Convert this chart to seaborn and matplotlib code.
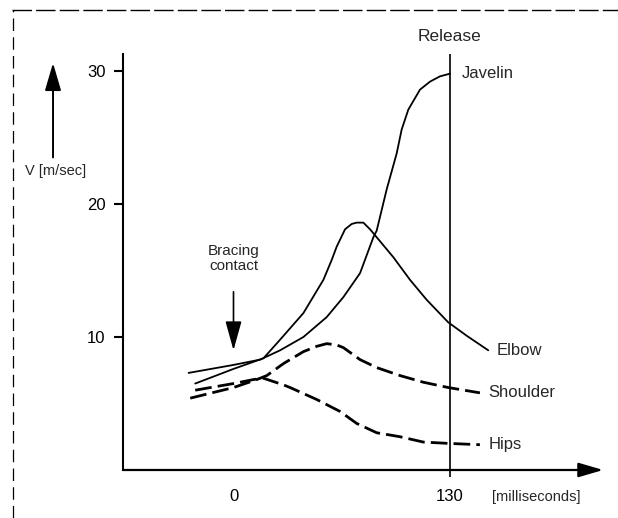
import numpy as np
import pandas as pd
import seaborn as sns
import matplotlib.pyplot as plt
from matplotlib.lines import Line2D

# time in ms relative to bracing contact, velocity in m/s
javelin_ms = [-27, 0, 16, 28, 42, 56, 66, 76, 84, 86, 92, 98, 101, 105, 112, 118, 124, 130]
javelin_v = [7.3, 7.9, 8.3, 9.0, 10.0, 11.5, 13.0, 14.8, 17.5, 18.0, 21.1, 23.8, 25.6, 27.1, 28.6, 29.2, 29.6, 29.8]

elbow_ms = [-23, 0, 18, 28, 42, 54, 59, 62, 67, 71, 74, 78, 82, 88, 96, 106, 116, 129, 140, 153]
elbow_v = [6.5, 7.6, 8.4, 9.8, 11.8, 14.3, 15.8, 16.8, 18.1, 18.5, 18.6, 18.6, 18.1, 17.2, 16.0, 14.3, 12.8, 11.1, 10.1, 9.0]

shoulder_ms = [-26, 0, 14, 20, 30, 34, 42, 50, 56, 62, 66, 76, 86, 100, 114, 129, 148]
shoulder_v = [5.4, 6.2, 6.8, 7.1, 8.0, 8.3, 8.9, 9.3, 9.5, 9.4, 9.2, 8.3, 7.7, 7.1, 6.6, 6.2, 5.8]

hips_ms = [-23, 0, 12, 18, 30, 34, 50, 64, 74, 86, 100, 114, 129, 148]
hips_v = [6.0, 6.5, 6.8, 6.9, 6.4, 6.2, 5.3, 4.4, 3.5, 2.8, 2.5, 2.1, 2.0, 1.9]

parts = ["Javelin", "Elbow", "Shoulder", "Hips"]
release_ms = 130
x_ticks = [0, 130]
y_ticks = [10, 20, 30]

df = pd.concat([
    pd.DataFrame({"ms": javelin_ms, "v": javelin_v, "part": "Javelin"}),
    pd.DataFrame({"ms": elbow_ms, "v": elbow_v, "part": "Elbow"}),
    pd.DataFrame({"ms": shoulder_ms, "v": shoulder_v, "part": "Shoulder"}),
    pd.DataFrame({"ms": hips_ms, "v": hips_v, "part": "Hips"}),
])

sns.set_theme(style="white")
plt.rcParams["font.family"] = ["Liberation Sans", "DejaVu Sans"]

fig = plt.figure(figsize=(6.18, 5.18), dpi=100)
ax = fig.add_axes([0, 0, 1, 1])
ax.set_facecolor("white")

# solid lines for javelin / elbow, dashed for shoulder / hips
for part in parts:
    sub = df[df["part"] == part]
    dashed = part in ("Shoulder", "Hips")
    sns.lineplot(data=sub, x="ms", y="v", ax=ax, color="black", sort=False,
                 estimator=None, lw=2.0 if dashed else 1.3,
                 linestyle=(0, (6, 2.2)) if dashed else "-")

# end labels
for part in parts:
    sub = df[df["part"] == part]
    x_end, y_end = sub["ms"].iloc[-1], sub["v"].iloc[-1]
    ax.text(x_end + (7 if part == "Javelin" else 5), y_end, part, fontsize=12,
            va="center", ha="left")

# release line
ax.vlines(release_ms, -0.5, 31.3, color="black", lw=1.2)
ax.text(release_ms, 32.6, "Release", fontsize=12.5, ha="center", va="center")

# bracing contact arrow
ax.text(0, 15.9, "Bracing\ncontact", fontsize=11, ha="center", va="center", linespacing=1.15)
ax.annotate("", xy=(0, 9.0), xytext=(0, 13.4),
            arrowprops=dict(arrowstyle="-|>,head_length=0.9,head_width=0.25",
                            mutation_scale=20, color="black", lw=1.2,
                            shrinkA=0, shrinkB=0))

# y unit arrow
ax.annotate("", xy=(-108.4, 30.6), xytext=(-108.4, 23.5),
            arrowprops=dict(arrowstyle="-|>,head_length=0.85,head_width=0.25",
                            mutation_scale=20, color="black", lw=1.4,
                            shrinkA=0, shrinkB=0))
ax.text(-107, 22.5, "V [m/sec]", fontsize=10.5, ha="center", va="center")

# x axis with arrow
ax.annotate("", xy=(222, 0), xytext=(-66.4, 0),
            arrowprops=dict(arrowstyle="-|>,head_length=0.75,head_width=0.22",
                            mutation_scale=20, color="black", lw=1.6,
                            shrinkA=0, shrinkB=0))
ax.text(182, -2.0, "[milliseconds]", fontsize=10.5, ha="center", va="center")

ax.set_xlim(-140.24, 230.93)
ax.set_ylim(-3.61, 35.34)

for side in ["top", "right", "bottom"]:
    ax.spines[side].set_visible(False)
ax.spines["left"].set_position(("data", -66.4))
ax.spines["left"].set_bounds(0, 31.3)
ax.spines["left"].set_linewidth(1.5)
ax.spines["left"].set_color("black")

ax.set_yticks(y_ticks)
ax.set_xticks(x_ticks)
ax.tick_params(axis="y", direction="out", length=6.5, width=1.5, pad=6,
               labelsize=12, left=True, colors="black")
ax.tick_params(axis="x", direction="out", length=0, pad=14,
               labelsize=12, bottom=True, colors="black")
ax.xaxis.set_ticks_position("bottom")
ax.spines["bottom"].set_position(("data", 0))
ax.set_xlabel("")
ax.set_ylabel("")
ax.grid(False)

# scanned page border (top and left edges)
fig.add_artist(Line2D([0.02, 1.0], [0.981, 0.981], color="black", lw=1.0,
                      linestyle=(0, (14, 3))))
fig.add_artist(Line2D([0.021, 0.021], [0.0, 0.981], color="black", lw=0.9,
                      linestyle=(0, (10, 5))))

fig.savefig("out.png", dpi=100)
